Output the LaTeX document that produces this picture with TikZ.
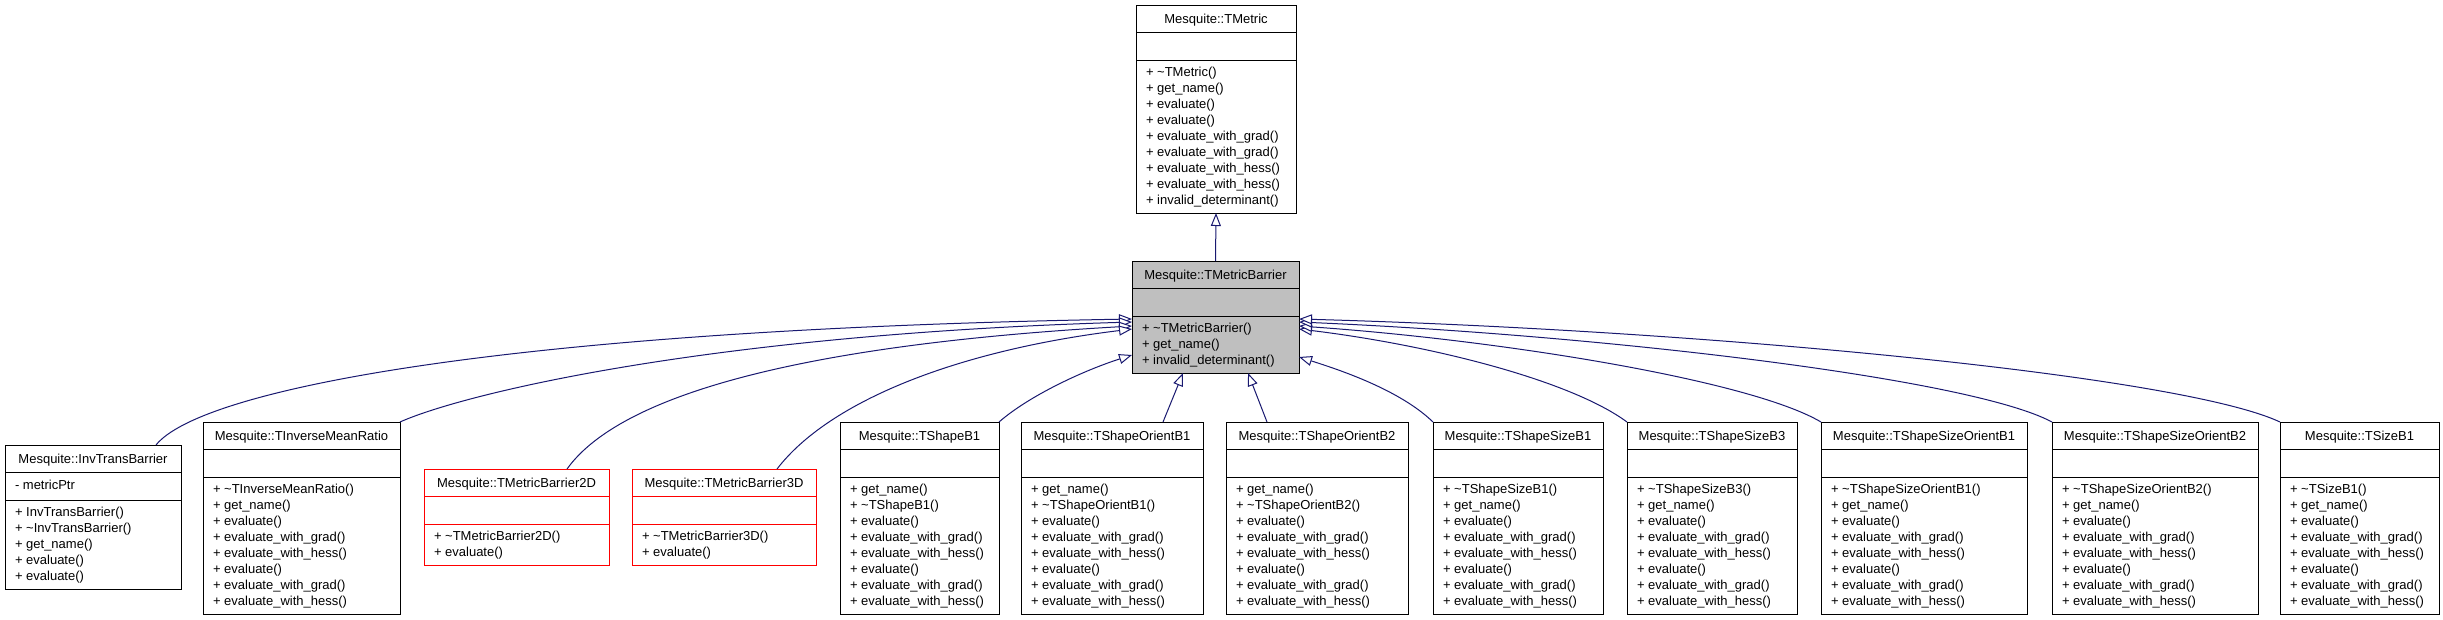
\documentclass[tikz,border=0pt]{standalone}
\usepackage{fontspec}
\setmainfont{Liberation Sans}
\usetikzlibrary{arrows.meta,calc}
\definecolor{edgeblue}{HTML}{191970}
\definecolor{basegray}{HTML}{BFBFBF}
\newcommand\tld{\textasciitilde}
\newcommand\umlfont{\fontsize{9.75}{12}\selectfont}
\tikzset{
 classbox/.style={draw=black, line width=0.75pt, fill=white},
 redbox/.style={draw=red, line width=0.75pt, fill=white},
 graybox/.style={draw=black, line width=0.75pt, fill=basegray},
 member/.style={inner sep=0pt, outer sep=0pt, font=\umlfont},
 inherit/.style={draw=edgeblue, line width=0.75pt, -{Triangle[length=9.75pt, width=7.5pt, fill=white]}},
}
\newcommand\umlbox[9]{%
 \pgfmathsetmacro\bw{(#4-#3)*0.75}%
 \pgfmathsetmacro\bh{(55+16*#6+9)*0.75}%
 \node[#1, anchor=north west, minimum width=\bw pt, minimum height=\bh pt, inner sep=0pt, outer sep=0pt] (#2) at (#3,#5) {};
 \draw[#1, fill=none] ($(#2.north west)+(0,27)$) -- ($(#2.north east)+(0,27)$);
 \draw[#1, fill=none] ($(#2.north west)+(0,55)$) -- ($(#2.north east)+(0,55)$);
 \node[member, anchor=base] (#2-t) at ($(#2.north)+(0,18)$) {#7};
 \node[member, anchor=base west] (#2-a) at ($(#2.north west)+(10,44)$) {#8};
 \foreach \mline [count=\i] in {#9} {
  \node[member, anchor=base west] (#2-m\i) at ($(#2.north west)+(10,{55+16.3+16*(\i-1)})$) {\mline};
 }
}
\begin{document}
\begin{tikzpicture}[x=0.75pt, y=-0.75pt]
\useasboundingbox (0,0) rectangle (2443,619);
\fill[white] (0,0) rectangle (2443,619);

\umlbox{classbox}{tm}{1136}{1296}{5}{9}{Mesquite::TMetric}{}{+ \tld TMetric(), + get\_name(), + evaluate(), + evaluate(), + evaluate\_with\_grad(), + evaluate\_with\_grad(), + evaluate\_with\_hess(), + evaluate\_with\_hess(), + invalid\_determinant()}

\umlbox{graybox}{tmb}{1132}{1299}{261}{3}{Mesquite::TMetricBarrier}{}{+ \tld TMetricBarrier(), + get\_name(), + invalid\_determinant()}

\umlbox{classbox}{inv}{5}{181}{445}{5}{Mesquite::InvTransBarrier}{- metricPtr}{+ InvTransBarrier(), + \tld InvTransBarrier(), + get\_name(), + evaluate(), + evaluate()}

\umlbox{classbox}{tim}{203}{400}{422}{8}{Mesquite::TInverseMeanRatio}{}{+ \tld TInverseMeanRatio(), + get\_name(), + evaluate(), + evaluate\_with\_grad(), + evaluate\_with\_hess(), + evaluate(), + evaluate\_with\_grad(), + evaluate\_with\_hess()}

\umlbox{redbox}{bd2}{424}{609}{469}{2}{Mesquite::TMetricBarrier2D}{}{+ \tld TMetricBarrier2D(), + evaluate()}

\umlbox{redbox}{bd3}{632}{816}{469}{2}{Mesquite::TMetricBarrier3D}{}{+ \tld TMetricBarrier3D(), + evaluate()}

\umlbox{classbox}{sb1}{840}{999}{422}{8}{Mesquite::TShapeB1}{}{+ get\_name(), + \tld TShapeB1(), + evaluate(), + evaluate\_with\_grad(), + evaluate\_with\_hess(), + evaluate(), + evaluate\_with\_grad(), + evaluate\_with\_hess()}

\umlbox{classbox}{sob1}{1021}{1203}{422}{8}{Mesquite::TShapeOrientB1}{}{+ get\_name(), + \tld TShapeOrientB1(), + evaluate(), + evaluate\_with\_grad(), + evaluate\_with\_hess(), + evaluate(), + evaluate\_with\_grad(), + evaluate\_with\_hess()}

\umlbox{classbox}{sob2}{1226}{1408}{422}{8}{Mesquite::TShapeOrientB2}{}{+ get\_name(), + \tld TShapeOrientB2(), + evaluate(), + evaluate\_with\_grad(), + evaluate\_with\_hess(), + evaluate(), + evaluate\_with\_grad(), + evaluate\_with\_hess()}

\umlbox{classbox}{ssb1}{1433}{1603}{422}{8}{Mesquite::TShapeSizeB1}{}{+ \tld TShapeSizeB1(), + get\_name(), + evaluate(), + evaluate\_with\_grad(), + evaluate\_with\_hess(), + evaluate(), + evaluate\_with\_grad(), + evaluate\_with\_hess()}

\umlbox{classbox}{ssb3}{1627}{1797}{422}{8}{Mesquite::TShapeSizeB3}{}{+ \tld TShapeSizeB3(), + get\_name(), + evaluate(), + evaluate\_with\_grad(), + evaluate\_with\_hess(), + evaluate(), + evaluate\_with\_grad(), + evaluate\_with\_hess()}

\umlbox{classbox}{ssob1}{1821}{2027}{422}{8}{Mesquite::TShapeSizeOrientB1}{}{+ \tld TShapeSizeOrientB1(), + get\_name(), + evaluate(), + evaluate\_with\_grad(), + evaluate\_with\_hess(), + evaluate(), + evaluate\_with\_grad(), + evaluate\_with\_hess()}

\umlbox{classbox}{ssob2}{2052}{2258}{422}{8}{Mesquite::TShapeSizeOrientB2}{}{+ \tld TShapeSizeOrientB2(), + get\_name(), + evaluate(), + evaluate\_with\_grad(), + evaluate\_with\_hess(), + evaluate(), + evaluate\_with\_grad(), + evaluate\_with\_hess()}

\umlbox{classbox}{tsb1}{2280}{2439}{422}{8}{Mesquite::TSizeB1}{}{+ \tld TSizeB1(), + get\_name(), + evaluate(), + evaluate\_with\_grad(), + evaluate\_with\_hess(), + evaluate(), + evaluate\_with\_grad(), + evaluate\_with\_hess()}

% inheritance edges
\draw[inherit] (tmb.north) -- (tm.south);

\draw[inherit] ($(inv.north west)+(151,0)$) .. controls (200,390) and (500,330) .. ($(tmb.north west)+(0,58)$);
\draw[inherit] (tim.north east) .. controls (460,395) and (700,335) .. ($(tmb.north west)+(0,61)$);
\draw[inherit] ($(bd2.north west)+(143,0)$) .. controls (620,395) and (800,345) .. ($(tmb.north west)+(0,65)$);
\draw[inherit] ($(bd3.north west)+(145,0)$) .. controls (830,400) and (960,350) .. ($(tmb.north west)+(0,68)$);
\draw[inherit] (sb1.north east) .. controls (1030,395) and (1085,370) .. ($(tmb.north west)+(0,94)$);
\draw[inherit] ($(sob1.north west)+(142,0)$) -- ($(tmb.south west)+(51,0)$);
\draw[inherit] ($(sob2.north west)+(41,0)$) -- ($(tmb.south west)+(116,0)$);
\draw[inherit] (ssb1.north west) .. controls (1400,390) and (1340,370) .. ($(tmb.north east)+(0,96)$);
\draw[inherit] (ssb3.north west) .. controls (1570,380) and (1430,345) .. ($(tmb.north east)+(0,68)$);
\draw[inherit] (ssob1.north west) .. controls (1750,380) and (1500,340) .. ($(tmb.north east)+(0,65)$);
\draw[inherit] (ssob2.north west) .. controls (1970,378) and (1600,335) .. ($(tmb.north east)+(0,61)$);
\draw[inherit] (tsb1.north west) .. controls (2180,375) and (1700,330) .. ($(tmb.north east)+(0,58)$);
\end{tikzpicture}
\end{document}
